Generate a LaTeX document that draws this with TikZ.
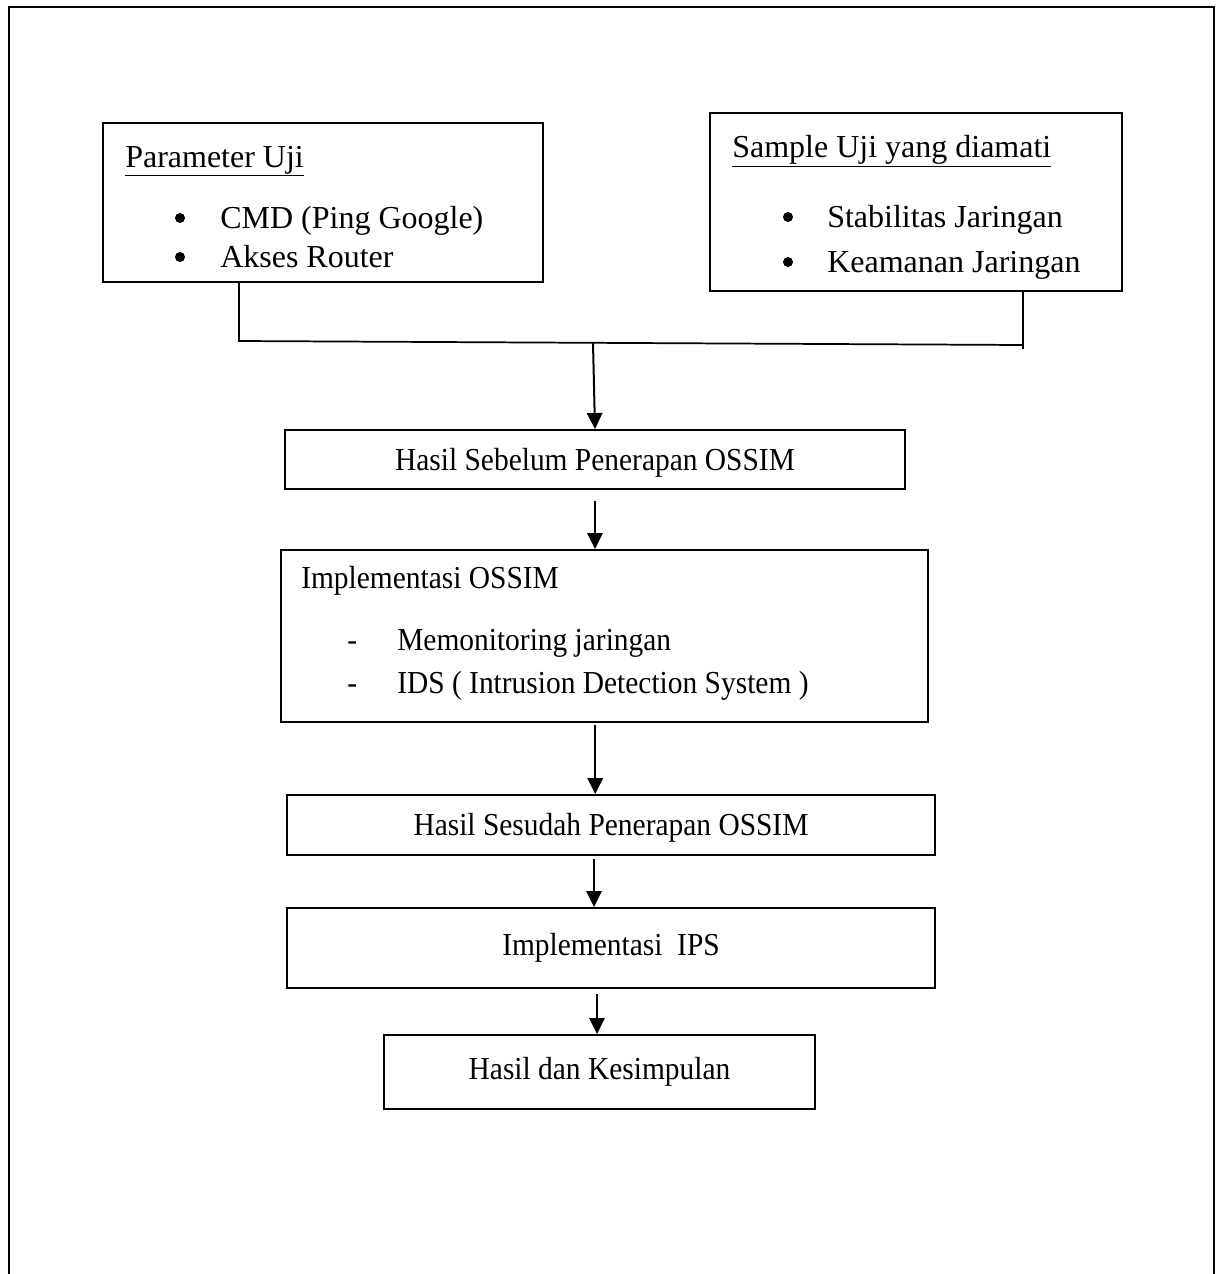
\documentclass[tikz,border=0pt]{standalone}
\usepackage{fontspec}
\setmainfont{Liberation Serif}
\newfontfamily\condfont[FakeStretch=0.92]{Liberation Serif}
\usetikzlibrary{arrows.meta}
\begin{document}
\begin{tikzpicture}[x=0.75pt,y=-0.75pt,
  box/.style={draw, rectangle, inner sep=0pt, line width=1.4pt},
  txt/.style={anchor=base west, inner sep=0pt, font=\fontsize{24}{28}\selectfont},
  ctxt/.style={anchor=base west, inner sep=0pt, font=\condfont\fontsize{24}{28}\selectfont},
  bul/.style={circle, fill=black, inner sep=0pt, minimum size=7.5pt},
  arr/.style={-{Triangle[length=12pt,width=11.5pt]}, line width=1.5pt},
  link/.style={line width=1.3pt}]
\useasboundingbox (0,0) rectangle (1217,1274);
\clip (0,0) rectangle (1217,1274);
% outer frame (open at the bottom)
\draw[line width=2pt] (9,1300) -- (9,7) -- (1214,7) -- (1214,1300);

% top boxes
\node[box, minimum width=330pt, minimum height=119.25pt] (P) at (323,202.5) {};
\node[txt] (Pt) at (125,167) {\underline{Parameter Uji}};
\node[bul] (Pb1) at (180,218) {};
\node[txt] (Pi1) at (220,228) {CMD (Ping Google)};
\node[bul] (Pb2) at (180,257) {};
\node[txt] (Pi2) at (220,267) {Akses Router};

\node[box, minimum width=309pt, minimum height=133.5pt] (S) at (916,202) {};
\node[txt] (St) at (732,157) {\underline{Sample Uji yang diamati}};
\node[bul] (Sb1) at (788,217) {};
\node[txt] (Si1) at (827,227) {Stabilitas Jaringan};
\node[bul] (Sb2) at (788,262) {};
\node[txt] (Si2) at (827,272) {Keamanan Jaringan};

% process boxes
\node[box, minimum width=465pt, minimum height=44.25pt, font=\condfont\fontsize{24}{28}\selectfont, text height=22pt, text depth=6pt] (B1) at (595,459.5) {Hasil Sebelum Penerapan OSSIM};

\node[box, minimum width=485.25pt, minimum height=129pt] (B2) at (604.5,636) {};
\node[ctxt] (B2t) at (301,588) {Implementasi OSSIM};
\node[ctxt] (B2d1) at (347,650) {-};
\node[ctxt] (B2i1) at (397,650) {Memonitoring jaringan};
\node[ctxt] (B2d2) at (347,693) {-};
\node[ctxt] (B2i2) at (397,693) {IDS ( Intrusion Detection System )};

\node[box, minimum width=486pt, minimum height=45pt, font=\condfont\fontsize{24}{28}\selectfont, text height=22pt, text depth=6pt] (B3) at (611,825) {Hasil Sesudah Penerapan OSSIM};
\node[box, minimum width=486pt, minimum height=60pt, font=\condfont\fontsize{24}{28}\selectfont] (B4) at (611,948) {Implementasi\ \ IPS};
\node[box, minimum width=323.25pt, minimum height=55.5pt, font=\condfont\fontsize{24}{28}\selectfont] (B5) at (599.5,1072) {Hasil dan Kesimpulan};

% connectors
\coordinate (jl) at (239,341);
\coordinate (jr) at (1023,345);
\coordinate (jm) at (593,343);
\draw[link] (P.south -| jl) -- (jl) -- (jr);
\draw[link] (S.south -| jr) -- ([yshift=-3pt]jr);
\draw[arr] (jm) -- (B1.north);
\draw[arr] ([yshift=-8pt]B1.south) -- (B1.south |- B2.north);
\draw[arr] ([xshift=-7pt,yshift=-1.5pt]B2.south) -- ([xshift=-7pt]B2.south |- B3.north);
\draw[arr] ([xshift=-12.75pt,yshift=-2pt]B3.south) -- ([xshift=-12.75pt]B3.south |- B4.north);
\draw[arr] ([xshift=-10.5pt,yshift=-4pt]B4.south) -- ([xshift=-10.5pt]B4.south |- B5.north);
\end{tikzpicture}
\end{document}
